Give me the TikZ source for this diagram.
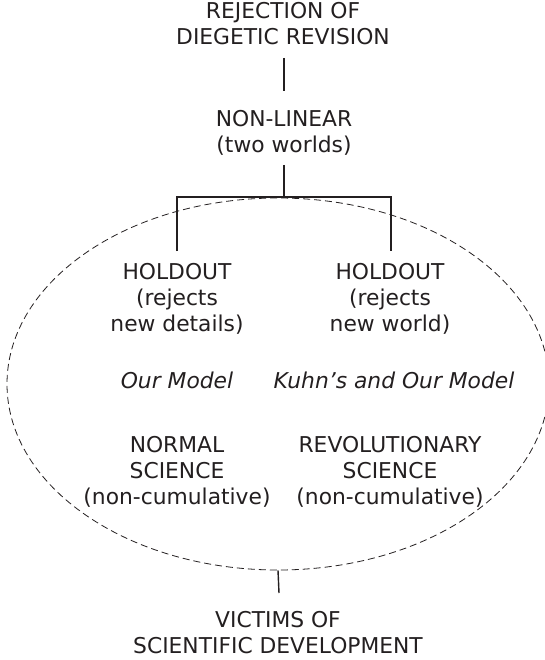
\documentclass[tikz,border=0pt]{standalone}
\usepackage{fontspec}
\setmainfont{DejaVu Sans}
\usetikzlibrary{shapes.geometric}
\definecolor{ink}{HTML}{231F20}
\begin{document}
\begin{tikzpicture}[x=1pt,y=-1pt,
  txt/.style={align=center, inner sep=0pt, anchor=base, text=ink,
    font=\fontsize{21.8}{26}\selectfont},
  tree/.style={draw=ink, line width=1.4pt},
  scope line/.style={draw=ink, line width=0.8pt, dash pattern=on 7pt off 4pt}]
\useasboundingbox (0,0) rectangle (544,660);

% dashed region around the two holdout branches
\node[scope line, ellipse, inner sep=0pt, minimum width=542pt, minimum height=372pt]
  (world) at (278,384) {};

% text blocks (base anchor = baseline of the last line)
\node[txt] (rej) at (283,45) {REJECTION OF\\DIEGETIC REVISION};
\node[txt] (nl) at (284,153) {NON-LINEAR\\(two worlds)};
\node[txt] (hl) at (177,331) {HOLDOUT\\(rejects\\new details)};
\node[txt] (hr) at (390,331) {HOLDOUT\\(rejects\\new world)};
\node[txt, font=\fontsize{21.8}{26}\selectfont\itshape] (ml) at (177,388) {Our Model};
\node[txt, font=\fontsize{21.8}{26}\selectfont\itshape] (mr) at (394,388) {Kuhn’s and Our Model};
\node[txt] (ns) at (177,504) {NORMAL\\SCIENCE\\(non-cumulative)};
\node[txt] (rs) at (390,504) {REVOLUTIONARY\\SCIENCE\\(non-cumulative)};
\node[txt] (vic) at (278,653) {VICTIMS OF\\SCIENTIFIC DEVELOPMENT};

% connector end points
\coordinate (rejfoot) at (284,58);
\coordinate (nlhead) at (284,91);
\coordinate (nlfoot) at (284,165);
\coordinate (fork) at (284,197);
\coordinate (hlhead) at (177,251);
\coordinate (hrhead) at (391,251);
\coordinate (vichead) at (279,593);

% connectors
\draw[tree] (rejfoot) -- (nlhead);
\draw[tree] (nlfoot) -- (fork);
\draw[tree] (hlhead) |- (fork) -| (hrhead);
\draw[tree] (world.south) -- (vichead);
\end{tikzpicture}
\end{document}
